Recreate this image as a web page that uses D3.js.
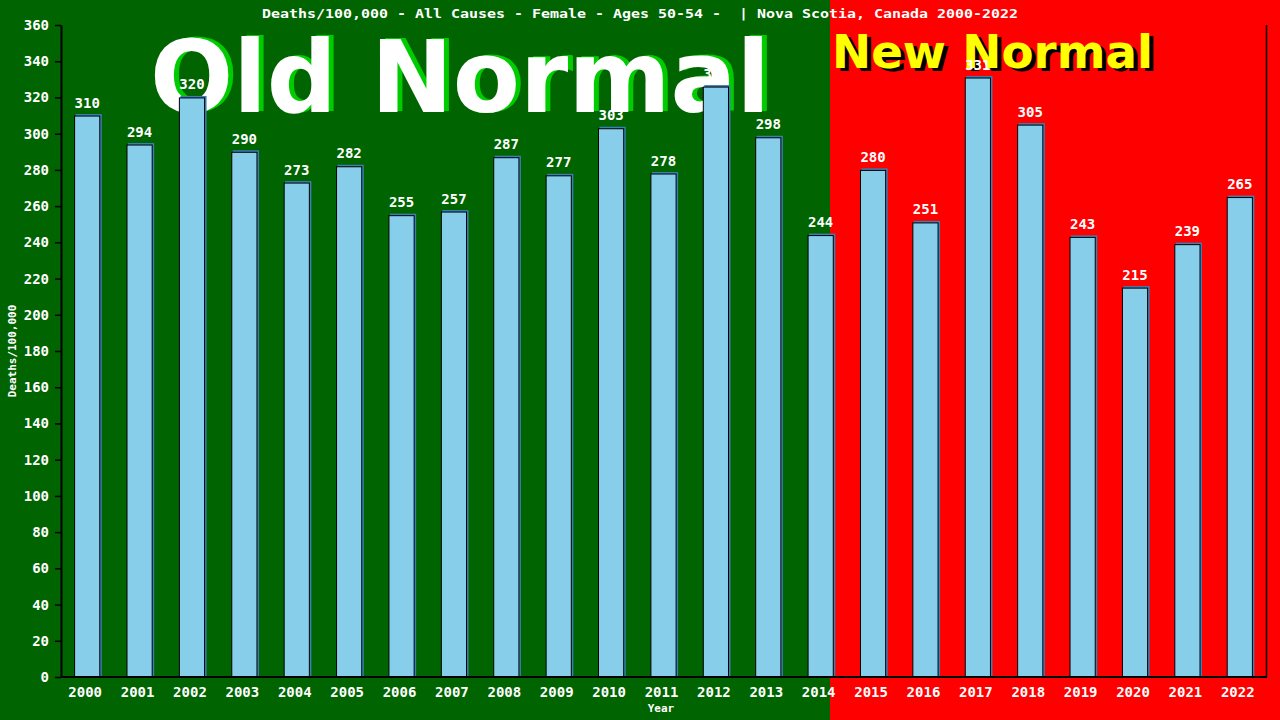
<!DOCTYPE html>
<html>
<head>
<meta charset="utf-8">
<script src="https://cdn.jsdelivr.net/npm/d3@7"></script>
<style>
  html, body { margin: 0; padding: 0; background: #006400; }
  svg { display: block; }
</style>
</head>
<body>
<svg id="chart" width="1280" height="720"></svg>
<script>
// data
const years = ['2000','2001','2002','2003','2004','2005','2006','2007','2008','2009','2010','2011',
  '2012','2013','2014','2015','2016','2017','2018','2019','2020','2021','2022'];
const deaths = [310, 294, 320, 290, 273, 282, 255, 257, 287, 277, 303, 278,
  326, 298, 244, 280, 251, 331, 305, 243, 215, 239, 265];
const yTicks = d3.range(0, 361, 20);
const titleText = 'Deaths/100,000 - All Causes - Female - Ages 50-54 -  | Nova Scotia, Canada 2000-2022';
const yLabel = 'Deaths/100,000';
const xLabel = 'Year';
const oldLabel = 'Old Normal';
const newLabel = 'New Normal';

const svg = d3.select('#chart');
const width = 1280, height = 720;
const margin = { top: 25, right: 14, bottom: 43, left: 61 };
const mono = '"DejaVu Sans Mono", "Liberation Mono", monospace';
const sans = '"DejaVu Sans", Verdana, sans-serif';

const x = d3.scaleBand()
  .domain(years)
  .range([margin.left, width - margin.right])
  .paddingInner(0.5)
  .paddingOuter(0.25);

const y = d3.scaleLinear()
  .domain([0, 360])
  .range([height - margin.bottom, margin.top]);

// background halves : green old, red new
const split = 830;
svg.append('rect').attr('x', 0).attr('y', 0).attr('width', split).attr('height', height).attr('fill', '#006400');
svg.append('rect').attr('x', split).attr('y', 0).attr('width', width - split).attr('height', height).attr('fill', '#ff0000');

// big labels (shadow first)
svg.append('text')
  .attr('x', 155).attr('y', 111)
  .attr('font-family', sans).attr('font-weight', 'bold').attr('font-size', 100)
  .attr('textLength', 620).attr('lengthAdjust', 'spacingAndGlyphs')
  .attr('fill', '#00cc00').text(oldLabel);
svg.append('text')
  .attr('x', 150).attr('y', 112)
  .attr('font-family', sans).attr('font-weight', 'bold').attr('font-size', 100)
  .attr('textLength', 620).attr('lengthAdjust', 'spacingAndGlyphs')
  .attr('fill', '#ffffff').text(oldLabel);

svg.append('text')
  .attr('x', 836).attr('y', 71)
  .attr('font-family', sans).attr('font-weight', 'bold').attr('font-size', 47)
  .attr('textLength', 321).attr('lengthAdjust', 'spacingAndGlyphs')
  .attr('fill', '#000000').text(newLabel);
svg.append('text')
  .attr('x', 832).attr('y', 68)
  .attr('font-family', sans).attr('font-weight', 'bold').attr('font-size', 47)
  .attr('textLength', 321).attr('lengthAdjust', 'spacingAndGlyphs')
  .attr('fill', '#ffff00').text(newLabel);

// bars : steelblue shadow then skyblue bar
const bars = svg.append('g');
bars.selectAll('.shadow')
  .data(years)
  .enter().append('rect')
  .attr('class', 'shadow')
  .attr('x', d => x(d) + 1.5)
  .attr('y', (d, i) => y(deaths[i]) - 1.5)
  .attr('width', x.bandwidth())
  .attr('height', (d, i) => y(0) - y(deaths[i]) + 1.5)
  .attr('fill', '#3a7fb5');

bars.selectAll('.bar')
  .data(years)
  .enter().append('rect')
  .attr('class', 'bar')
  .attr('x', d => x(d) + 0.5)
  .attr('y', (d, i) => y(deaths[i]) + 0.5)
  .attr('width', x.bandwidth() - 1)
  .attr('height', (d, i) => y(0) - y(deaths[i]) - 0.5)
  .attr('fill', '#87ceeb')
  .attr('stroke', '#000')
  .attr('stroke-width', 1);

// value labels
svg.append('g').selectAll('text')
  .data(years)
  .enter().append('text')
  .attr('x', d => x(d) + x.bandwidth() / 2)
  .attr('y', (d, i) => y(deaths[i]) - 8)
  .attr('text-anchor', 'middle')
  .attr('font-family', mono).attr('font-size', 14).attr('font-weight', 'bold')
  .attr('fill', '#fff')
  .text((d, i) => deaths[i]);

// y axis
const yAxis = svg.append('g')
  .attr('transform', `translate(${margin.left},0)`)
  .call(d3.axisLeft(y).tickValues(yTicks).tickSize(6).tickPadding(6).tickSizeOuter(0));
yAxis.select('.domain').attr('stroke', '#000').attr('stroke-width', 2);
yAxis.selectAll('line').attr('stroke', '#000').attr('stroke-width', 1.5);
yAxis.selectAll('text')
  .attr('fill', '#fff')
  .attr('font-family', mono).attr('font-size', 14).attr('font-weight', 'bold');

// right border line
svg.append('line')
  .attr('x1', width - margin.right + 0.5).attr('x2', width - margin.right + 0.5)
  .attr('y1', y(360)).attr('y2', y(0))
  .attr('stroke', '#000').attr('stroke-width', 1.5);

// x axis
const xAxis = svg.append('g')
  .attr('transform', `translate(0,${y(0)})`)
  .call(d3.axisBottom(x).tickSize(0).tickPadding(10).tickSizeOuter(0));
xAxis.select('.domain').attr('stroke', '#000').attr('stroke-width', 2)
  .attr('d', `M${margin.left},0H${width - margin.right + 1}`);
xAxis.selectAll('text')
  .attr('dx', -2)
  .attr('fill', '#fff')
  .attr('font-family', mono).attr('font-size', 14).attr('font-weight', 'bold');

// title
svg.append('text')
  .attr('x', 262).attr('y', 17.5)
  .attr('textLength', 756).attr('lengthAdjust', 'spacingAndGlyphs')
  .attr('font-family', mono).attr('font-size', 13).attr('font-weight', 'bold')
  .attr('fill', '#fff')
  .style('white-space', 'pre')
  .text(titleText);

// axis titles
svg.append('text')
  .attr('transform', `translate(16, ${(y(0) + y(360)) / 2}) rotate(-90)`)
  .attr('text-anchor', 'middle')
  .attr('font-family', mono).attr('font-size', 11).attr('font-weight', 'bold')
  .attr('fill', '#fff')
  .text(yLabel);

svg.append('text')
  .attr('x', 661).attr('y', 712)
  .attr('text-anchor', 'middle')
  .attr('font-family', mono).attr('font-size', 11).attr('font-weight', 'bold')
  .attr('fill', '#fff')
  .text(xLabel);
</script>
</body>
</html>
